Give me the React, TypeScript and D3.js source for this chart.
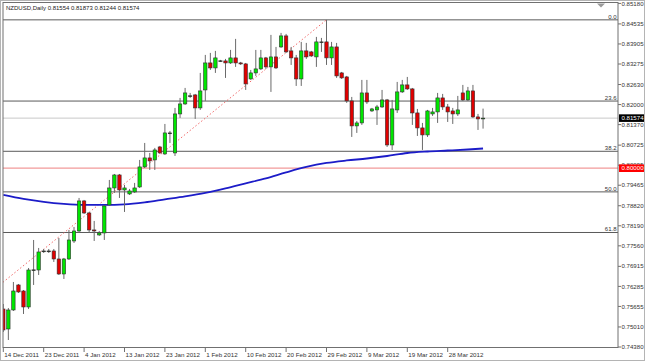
import React from "react";
import * as d3 from "d3";

// ---- data ----
const opens = [0.75575,0.74946,0.75544,0.76330,0.76141,0.75638,0.76801,0.76801,0.77399,0.77395,0.77399,0.77147,0.76675,0.77147,0.77713,0.78027,0.78971,0.78593,0.78059,0.77902,0.77965,0.78845,0.79379,0.79788,0.79316,0.79191,0.79254,0.79411,0.80040,0.80323,0.80260,0.80668,0.80448,0.81109,0.80480,0.81706,0.82020,0.82272,0.82303,0.81895,0.82460,0.83309,0.83152,0.83372,0.83372,0.83309,0.83467,0.83309,0.83278,0.82806,0.82995,0.83121,0.83467,0.83184,0.83498,0.83812,0.84158,0.83687,0.83467,0.82806,0.83687,0.83655,0.83498,0.83970,0.83970,0.83467,0.83812,0.82995,0.82869,0.82115,0.81329,0.81423,0.82366,0.81800,0.81832,0.81926,0.82146,0.80731,0.81832,0.82398,0.82618,0.82492,0.81737,0.81266,0.81046,0.81706,0.81769,0.82209,0.81926,0.81800,0.81706,0.82366,0.82146,0.82429,0.81612,0.81554];
const highs = [0.75732,0.75606,0.76424,0.76361,0.76172,0.76864,0.77744,0.77493,0.77461,0.77461,0.77461,0.77807,0.77179,0.78059,0.78153,0.79065,0.79002,0.78625,0.78342,0.78027,0.78845,0.79631,0.79819,0.79819,0.79474,0.79348,0.79537,0.80260,0.80794,0.80480,0.80637,0.80700,0.81391,0.81171,0.81895,0.82209,0.82523,0.82366,0.82335,0.82995,0.83561,0.83624,0.83687,0.83404,0.83435,0.83718,0.84064,0.83341,0.83309,0.83089,0.83718,0.83718,0.83498,0.84190,0.83812,0.84253,0.84221,0.83812,0.83561,0.83970,0.83938,0.83687,0.84127,0.84095,0.84661,0.83970,0.83938,0.83026,0.82901,0.82240,0.81486,0.82775,0.82775,0.81895,0.81989,0.82460,0.82177,0.82146,0.82712,0.82775,0.82869,0.82523,0.81863,0.81423,0.81832,0.81895,0.82366,0.82335,0.82020,0.81895,0.82272,0.82618,0.82555,0.82618,0.81706,0.81873];
const lows = [0.74852,0.74600,0.75512,0.76078,0.75418,0.75575,0.76330,0.76644,0.77336,0.77336,0.77053,0.76644,0.76518,0.77116,0.77650,0.77965,0.78562,0.77965,0.77713,0.77870,0.77744,0.78813,0.79222,0.79065,0.78625,0.79159,0.79222,0.79379,0.80008,0.79945,0.79945,0.80448,0.80417,0.80794,0.80385,0.81580,0.81989,0.82209,0.81549,0.81832,0.82115,0.83089,0.82995,0.83341,0.82838,0.83278,0.83184,0.83246,0.82460,0.82775,0.82901,0.83089,0.83121,0.82398,0.83121,0.83781,0.83624,0.83246,0.82586,0.82586,0.83435,0.83498,0.83184,0.83655,0.83246,0.83246,0.82838,0.82806,0.82052,0.80983,0.81109,0.81360,0.82020,0.81769,0.81360,0.81895,0.80668,0.80574,0.81737,0.82366,0.82460,0.81360,0.81014,0.80574,0.80983,0.81643,0.81423,0.81832,0.81454,0.81391,0.81643,0.82115,0.82115,0.81580,0.81203,0.81244];
const closes = [0.74915,0.75544,0.76141,0.76110,0.75638,0.76801,0.76805,0.77367,0.77395,0.77399,0.77147,0.76675,0.77147,0.77744,0.78027,0.78971,0.78593,0.78059,0.78027,0.77965,0.78813,0.79379,0.79788,0.79316,0.79379,0.79285,0.79379,0.80040,0.80323,0.80228,0.80574,0.80480,0.81109,0.81105,0.81706,0.82020,0.82366,0.82276,0.81895,0.82429,0.83309,0.83152,0.83467,0.83376,0.83309,0.83467,0.83309,0.83278,0.82649,0.82995,0.83121,0.83467,0.83184,0.83498,0.83152,0.84158,0.83655,0.83467,0.82806,0.83687,0.83498,0.83529,0.83970,0.83966,0.83467,0.83812,0.82901,0.82838,0.82115,0.81329,0.81423,0.82366,0.82083,0.81863,0.81926,0.82146,0.80731,0.81863,0.82398,0.82618,0.82492,0.81737,0.81266,0.81046,0.81800,0.81769,0.82209,0.81926,0.81769,0.81706,0.81832,0.82146,0.82429,0.81612,0.81549,0.81574];

const maBars = [0,4,8,12,16,20,24,28,32,36,40,44,48,52,56,60,64,68,72,76,80,84,88,92,95];
const maValues = [0.79161,0.79036,0.78942,0.78879,0.78848,0.78848,0.78864,0.78926,0.79020,0.79114,0.79224,0.79365,0.79522,0.79678,0.79867,0.80039,0.80164,0.80243,0.80305,0.80384,0.80478,0.80525,0.80556,0.80588,0.80619];

const priceTicks = [0.85180,0.84535,0.83905,0.83275,0.82630,0.82000,0.81370,0.80725,0.80095,0.79465,0.78820,0.78190,0.77560,0.76915,0.76285,0.75655,0.75010,0.74380];
const dateBars = [0,8,16,24,32,40,48,56,64,72,80,88];
const dateLabels = ["14 Dec 2011","23 Dec 2011","4 Jan 2012","13 Jan 2012","23 Jan 2012","1 Feb 2012","10 Feb 2012","20 Feb 2012","29 Feb 2012","9 Mar 2012","19 Mar 2012","28 Mar 2012"];

const fibLevels = [0, 23.6, 38.2, 50.0, 61.8];
const fibLabels = ["0.0", "23.6", "38.2", "50.0", "61.8"];
const fibHigh = { bar: 64, price: 0.84663 };
const fibLow = { bar: -20, price: 0.73848 };
const roundLevel = 0.80000;
const lastPrice = 0.81574;
const titleText = "NZDUSD,Daily  0.81554 0.81873 0.81244 0.81574";

const W = 645, H = 361;
const L = 3, R = 618, T = 2.5, B = 347.5;
const FONT = "'Liberation Sans', Arial, sans-serif";

export default function App() {
  const x = d3.scaleLinear().domain([0, 95]).range([3.3, 483.05]);
  const y = d3.scaleLinear().domain([0.7438, 0.8518]).range([347, 3.4]);
  const bw = 3.4;

  const maLine = d3.line<number>()
    .x((_, i) => x(maBars[i]))
    .y((d) => y(d))
    .curve(d3.curveMonotoneX)(maValues) as string;

  const range = fibHigh.price - fibLow.price;

  return (
    <svg width={W} height={H} style={{ position: "absolute", left: 0, top: 0, background: "#fff" }}>
      <defs>
        <clipPath id="plot">
          <rect x={L} y={T} width={R - L} height={B - T} />
        </clipPath>
      </defs>
      <rect x={0.5} y={0.5} width={W - 1} height={H - 1} fill="#fff" stroke="#b4b4b4" />
      <g clipPath="url(#plot)">
        {/* last price line */}
        <line x1={L} x2={R} y1={y(lastPrice)} y2={y(lastPrice)} stroke="#c8c8c8" strokeWidth={1} />
        {/* 0.80000 line */}
        <line x1={L} x2={R} y1={y(roundLevel)} y2={y(roundLevel)} stroke="#f29a9a" strokeWidth={1.2} />
        {/* fib levels */}
        {fibLevels.map((lv, k) => {
          const p = fibHigh.price - (lv / 100) * range;
          return (
            <g key={k}>
              <line x1={L} x2={R} y1={y(p)} y2={y(p)} stroke="#5a5a5a" strokeWidth={1} />
              <text x={R - 1.5} y={y(p) - 1.3} textAnchor="end" fontSize={6} fontFamily={FONT} fill="#333">{fibLabels[k]}</text>
            </g>
          );
        })}
        {/* fib trend line */}
        <line x1={x(fibLow.bar)} y1={y(fibLow.price)} x2={x(fibHigh.bar)} y2={y(fibHigh.price)}
          stroke="#f06a6a" strokeWidth={1} strokeDasharray="1.5 2.2" />
        {/* moving average */}
        <path d={maLine} fill="none" stroke="#1c1cc8" strokeWidth={1.8} />
        {/* candles */}
        {opens.map((o, i) => {
          const c = closes[i];
          const cx = x(i);
          const top = y(Math.max(o, c));
          const bot = y(Math.min(o, c));
          const h = Math.max(bot - top, 0.8);
          const fill = c > o + 0.00006 ? "#00e600" : c < o - 0.00006 ? "#e00000" : "#1e3a1e";
          return (
            <g key={i}>
              <line x1={cx} x2={cx} y1={y(highs[i])} y2={y(lows[i])} stroke="#6a6a6a" strokeWidth={1} />
              <rect x={cx - bw / 2} y={top} width={bw} height={h} fill={fill} stroke="#303030" strokeWidth={0.6} />
            </g>
          );
        })}
      </g>
      {/* frame */}
      <rect x={L} y={T} width={R - L} height={B - T} fill="none" stroke="#707070" strokeWidth={1} />
      {/* shift marker */}
      <polygon points="597,3.5 605,3.5 601,7.5" fill="#9a9a9a" />
      {/* title */}
      <text x={6} y={10} fontSize={6} fontFamily={FONT} fill="#222">{titleText}</text>
      {/* price axis */}
      {priceTicks.map((p, k) => (
        <g key={k}>
          <line x1={R} x2={R + 3} y1={y(p)} y2={y(p)} stroke="#707070" />
          <text x={R + 3.5} y={y(p)} dy="0.35em" fontSize={6.1} fontFamily={FONT} fill="#333">{p.toFixed(5)}</text>
        </g>
      ))}
      <rect x={R + 1} y={y(lastPrice) - 3.8} width={25} height={7.6} fill="#000" />
      <text x={R + 3.5} y={y(lastPrice)} dy="0.35em" fontSize={6.1} fontFamily={FONT} fill="#fff">{lastPrice.toFixed(5)}</text>
      <rect x={R + 1} y={y(roundLevel) - 3.8} width={25} height={7.6} fill="#ff0000" />
      <text x={R + 3.5} y={y(roundLevel)} dy="0.35em" fontSize={6.1} fontFamily={FONT} fill="#fff">{roundLevel.toFixed(5)}</text>
      {/* date axis */}
      {dateBars.map((b, k) => (
        <g key={k}>
          <line x1={x(b)} x2={x(b)} y1={B} y2={B + 4.5} stroke="#707070" />
          <text x={x(b) + 1} y={357} fontSize={6.2} fontFamily={FONT} fill="#333">{dateLabels[k]}</text>
        </g>
      ))}
    </svg>
  );
}
